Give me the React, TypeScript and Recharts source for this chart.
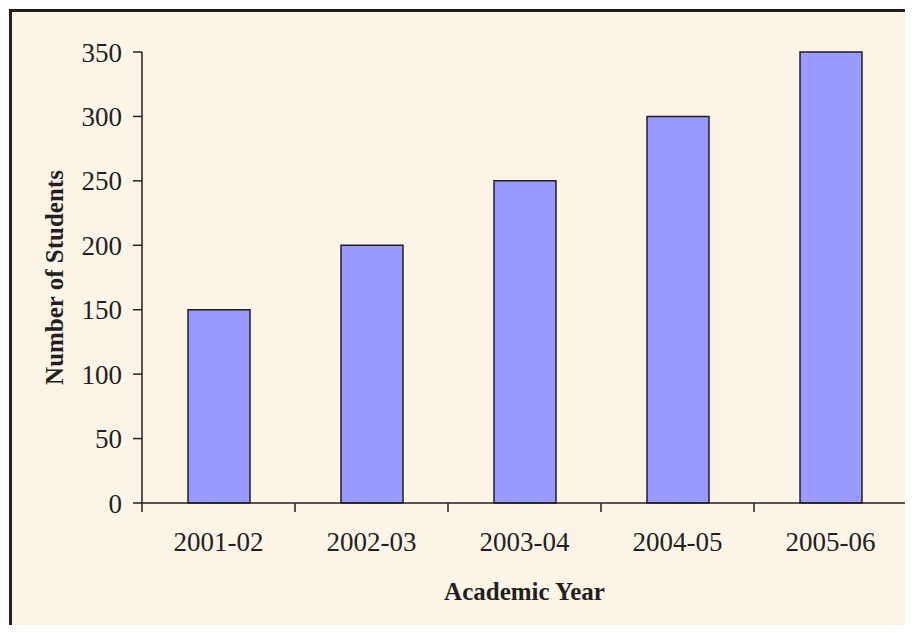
import { BarChart, Bar, XAxis, YAxis, Label } from 'recharts';

// academic years on the x axis, enrolment per year
const years = ['2001-02', '2002-03', '2003-04', '2004-05', '2005-06'];
const students = [150, 200, 250, 300, 350];
const yTicks = [0, 50, 100, 150, 200, 250, 300, 350];

const data = years.map((year, i) => ({ year, students: students[i] }));

const INK = '#231f20';
const FONT = '"Liberation Serif", "Times New Roman", serif';
const TICK_SIZE = 9;
const TICK_MARGIN = 20;

// x tick: label at band centre, tick marks at the band edges
function YearTick({ x, y, payload, index, visibleTicksCount }: any) {
  const half = payload.offset ?? 0;
  const axisY = y - TICK_SIZE - TICK_MARGIN;
  const isLast = index === visibleTicksCount - 1;
  return (
    <g>
      <line x1={x - half} x2={x - half} y1={axisY} y2={axisY + TICK_SIZE} stroke={INK} strokeWidth={1.5} />
      {isLast && (
        <line x1={x + half} x2={x + half} y1={axisY} y2={axisY + TICK_SIZE} stroke={INK} strokeWidth={1.5} />
      )}
      <text x={x} y={y} dy="0.71em" textAnchor="middle" fill={INK} fontSize={27} fontFamily={FONT}>
        {payload.value}
      </text>
    </g>
  );
}

const YTitle = ({ viewBox }: any) => {
  const cx = viewBox.x + 43;
  const cy = viewBox.y + viewBox.height / 2;
  return (
    <text
      x={cx}
      y={cy}
      transform={`rotate(-90 ${cx} ${cy})`}
      textAnchor="middle"
      fill={INK}
      fontSize={25}
      fontWeight="bold"
      fontFamily={FONT}
    >
      Number of Students
    </text>
  );
};

const XTitle = ({ viewBox }: any) => (
  <text
    x={viewBox.x + viewBox.width / 2}
    y={viewBox.y + 97}
    textAnchor="middle"
    fill={INK}
    fontSize={25}
    fontWeight="bold"
    fontFamily={FONT}
  >
    Academic Year
  </text>
);

export default function App() {
  return (
    <div style={{ position: 'relative', width: 913, height: 633, margin: -8, overflow: 'hidden', background: '#fff' }}>
      <div
        style={{
          position: 'absolute',
          left: 9,
          top: 9,
          width: 930,
          height: 650,
          borderTop: `3px solid ${INK}`,
          borderLeft: `3px solid ${INK}`,
          background: '#fdf4e8',
        }}
      />
      <div style={{ position: 'absolute', left: 0, top: 0 }}>
        <BarChart width={913} height={633} data={data} margin={{ top: 52, right: 6, left: 20, bottom: 33 }}>
          <XAxis
            dataKey="year"
            height={97}
            axisLine={{ stroke: INK, strokeWidth: 1.5 }}
            tickLine={false}
            tickSize={TICK_SIZE}
            tickMargin={TICK_MARGIN}
            tick={<YearTick />}
            interval={0}
          >
            <Label content={<XTitle />} />
          </XAxis>
          <XAxis xAxisId="top" dataKey="year" orientation="top" height={0} tick={false} tickLine={false} axisLine={{ stroke: '#8c8c8c' }} />
          <YAxis
            width={122}
            domain={[0, 350]}
            ticks={yTicks}
            interval={0}
            axisLine={{ stroke: INK, strokeWidth: 1.5 }}
            tickLine={{ stroke: INK, strokeWidth: 1.5 }}
            tickSize={TICK_SIZE}
            tickMargin={11}
            tick={{ fill: INK, fontSize: 27, fontFamily: FONT }}
          >
            <Label content={<YTitle />} />
          </YAxis>
          <YAxis yAxisId="right" orientation="right" width={0} domain={[0, 350]} tick={false} tickLine={false} axisLine={{ stroke: '#8c8c8c' }} />
          <Bar dataKey="students" fill="#9999ff" stroke={INK} strokeWidth={1.5} barSize={62} isAnimationActive={false} />
        </BarChart>
      </div>
    </div>
  );
}
